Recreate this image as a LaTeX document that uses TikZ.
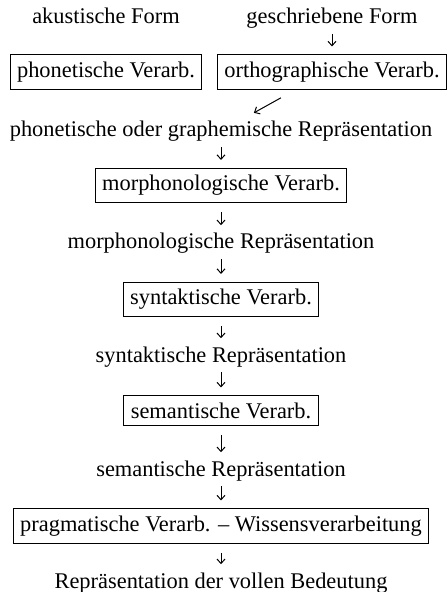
\documentclass[tikz,border=0pt]{standalone}
\usepackage{fontspec}
\setmainfont{Liberation Serif}
\usetikzlibrary{arrows.meta}

\tikzset{
  repr/.style={inner sep=0pt, text height=7.7pt, text depth=0.5pt, anchor=base,
    font=\fontsize{11.2pt}{13pt}\selectfont},
  verarb/.style={draw, line width=0.5pt, inner sep=3.5pt, anchor=base,
    font=\fontsize{11.2pt}{13pt}\selectfont},
  flow/.style={-{Straight Barb[length=2.2pt,width=4pt]}, line width=0.5pt,
    shorten <=4.5pt, shorten >=4pt}
}

\begin{document}
\begin{tikzpicture}[x=0.5pt, y=-0.5pt]
      \useasboundingbox (0,0) rectangle (446,592);

      % Eingabe
      \node[repr] (akust) at (106,24) {akustische Form};
      \node[repr] (geschr) at (332,24) {geschriebene Form};
      \node[verarb] (phon) at (106,77.5) {phonetische Verarb.};
      \node[verarb] (ortho) at (332,77.5) {orthographische Verarb.};
      \draw[flow] (geschr) -- (ortho);
      \draw[flow, shorten <=0pt, shorten >=0pt] ([xshift=32pt,yshift=-4pt]ortho.south west) -- ++(-27,15);

      % Verarbeitungsstufen
      \node[repr] (phonrepr) at (221,137) {phonetische oder graphemische Repräsentation};
      \node[verarb] (morph) at (221,191) {morphonologische Verarb.};
      \node[repr] (morphrepr) at (221,249) {morphonologische Repräsentation};
      \node[verarb] (synt) at (221,305) {syntaktische Verarb.};
      \node[repr] (syntrepr) at (221,362) {syntaktische Repräsentation};
      \node[verarb] (sem) at (221,418.5) {semantische Verarb.};
      \node[repr] (semrepr) at (221,476) {semantische Repräsentation};
      \node[verarb] (prag) at (221,531.5) {pragmatische Verarb. -- Wissensverarbeitung};
      \node[repr] (bedeutung) at (221,588) {Repräsentation der vollen Bedeutung};

      % Pfeile
      \draw[flow] (phonrepr) -- (morph);
      \draw[flow] (morph) -- (morphrepr);
      \draw[flow] (morphrepr) -- (synt);
      \draw[flow] (synt) -- (syntrepr);
      \draw[flow] (syntrepr) -- (sem);
      \draw[flow] (sem) -- (semrepr);
      \draw[flow] (semrepr) -- (prag);
      \draw[flow] (prag) -- (bedeutung);
    \end{tikzpicture}
\end{document}
